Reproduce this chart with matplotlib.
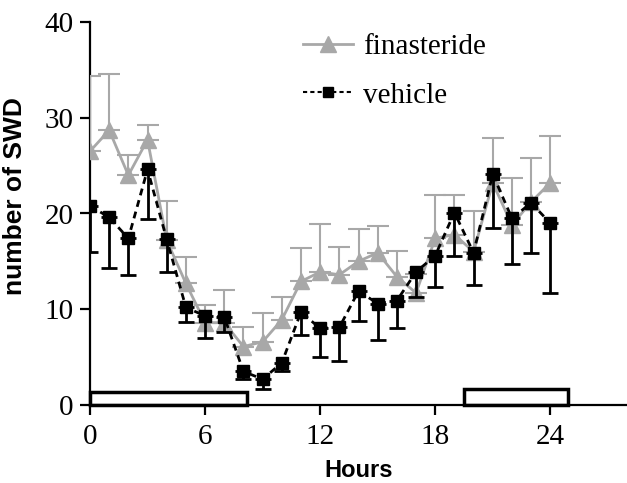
import numpy as np
import matplotlib
matplotlib.use("Agg")
import matplotlib.pyplot as plt
from matplotlib.lines import Line2D

# hourly values
hours = np.arange(0, 25)
fin_mean = [26.5, 28.7, 24.0, 27.7, 17.2, 12.7, 8.6, 8.6, 6.1, 6.6, 8.9, 12.9, 13.9,
            13.6, 15.0, 15.9, 13.4, 11.7, 17.4, 17.8, 16.0, 23.2, 18.8, 21.2, 23.2]
fin_sem = [7.9, 5.9, 2.1, 1.5, 4.1, 2.8, 1.8, 3.4, 2.0, 3.0, 2.4, 3.5, 5.0,
           2.9, 3.4, 2.8, 2.7, 2.0, 4.5, 4.1, 4.3, 4.7, 4.9, 4.6, 4.9]
veh_mean = [20.8, 19.6, 17.4, 24.6, 17.3, 10.2, 9.3, 9.2, 3.5, 2.7, 4.4, 9.7, 8.0,
            8.1, 11.9, 10.6, 10.9, 13.9, 15.6, 20.1, 15.9, 24.1, 19.5, 21.1, 19.0]
veh_sem = [4.8, 5.3, 3.8, 5.2, 3.4, 1.5, 2.3, 1.6, 0.8, 1.0, 0.8, 2.4, 3.0,
           3.5, 3.1, 3.8, 2.9, 2.6, 3.3, 4.5, 3.4, 5.6, 4.8, 5.2, 7.3]

# light/dark boxes along the time axis
box_start = [0, 19.5]
box_end = [8.2, 24.9]
box_height = [1.4, 1.7]

gray = "#a8a8a8"
serif = "Liberation Serif"
sans = "Liberation Sans"

fig = plt.figure(figsize=(6.27, 4.83), dpi=100)
ax = fig.add_axes([90/627, 1-405/483, 1-90/627, (405-22)/483])

zeros = np.zeros(len(hours))
ax.errorbar(hours, fin_mean, yerr=[zeros, fin_sem], color=gray, lw=2,
            marker="^", ms=11, mec=gray, mfc=gray, ecolor=gray,
            elinewidth=1.5, capsize=8, capthick=1.5, zorder=3)
ax.errorbar(hours, veh_mean, yerr=[veh_sem, zeros], color="black", lw=2,
            ls=(0, (2.5, 1.8)), marker="s", ms=8, mec="black", mfc="black",
            ecolor="black", elinewidth=2, capsize=6, capthick=2, zorder=4)

widths = np.array(box_end) - np.array(box_start)
ax.bar(box_start, box_height, width=widths, align="edge", facecolor="white",
       edgecolor="black", lw=2.5, zorder=2, clip_on=False)

ax.set_xlim(0, 28)
ax.set_ylim(0, 40)
ax.set_xticks([0, 6, 12, 18, 24])
ax.set_yticks([0, 10, 20, 30, 40])
for s in ["top", "right"]:
    ax.spines[s].set_visible(False)
for s in ["left", "bottom"]:
    ax.spines[s].set_linewidth(1.6)
ax.tick_params(direction="out", length=7, width=1.6, labelsize=21)
ax.tick_params(axis="x", pad=7)
ax.tick_params(axis="y", pad=5)
for lab in ax.get_xticklabels() + ax.get_yticklabels():
    lab.set_fontfamily(serif)

ax.set_xlabel("Hours", fontsize=17, fontweight="bold", family=sans)
ax.xaxis.set_label_coords(0.5, -0.142)
ax.set_ylabel("number of SWD", fontsize=19, fontweight="bold", family=sans)
ax.yaxis.set_label_coords(-0.118, 0.546)

handles = [
    Line2D([], [], color=gray, lw=2, marker="^", ms=11, mfc=gray, mec=gray),
    Line2D([], [], color="black", lw=1.5, ls=(0, (2, 1.5)), marker="s", ms=7,
           mfc="black", mec="black"),
]
ax.legend(handles, ["finasteride", "vehicle"], loc="upper left",
          bbox_to_anchor=(303/627, 1-34/483), bbox_transform=fig.transFigure,
          frameon=False, borderpad=0, borderaxespad=0, handlelength=1.7,
          handletextpad=0.35, labelspacing=0.75,
          prop={"family": serif, "size": 21})

fig.savefig("out.png", dpi=100)
